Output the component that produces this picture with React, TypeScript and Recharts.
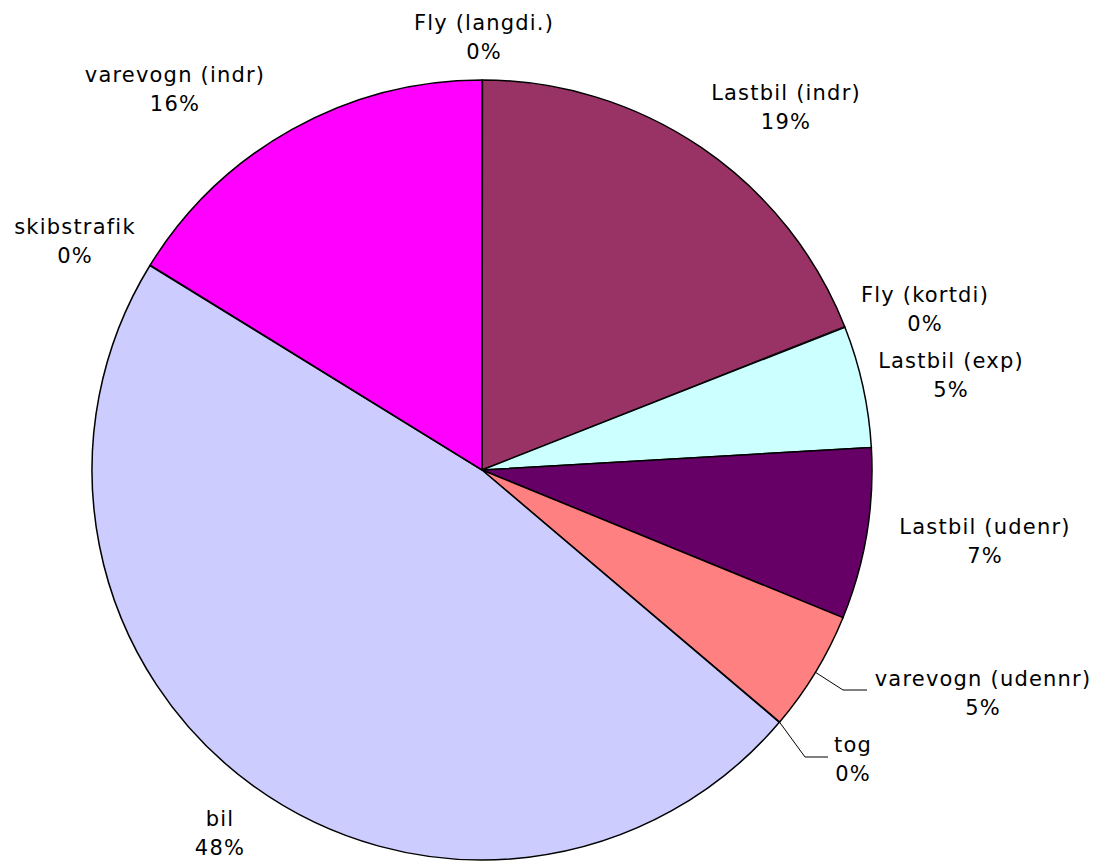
import React from 'react';
import { PieChart, Pie, Cell } from 'recharts';

const CATEGORIES = [
  'Fly (langdi.)',
  'Lastbil (indr)',
  'Fly (kortdi)',
  'Lastbil (exp)',
  'Lastbil (udenr)',
  'varevogn (udennr)',
  'tog',
  'bil',
  'skibstrafik',
  'varevogn (indr)',
];

const VALUES = [0.02, 19.0, 0.02, 5.05, 7.1, 5.0, 0.02, 47.6, 0.02, 16.2];

const COLORS = [
  '#000080',
  '#993366',
  '#FFFFCC',
  '#CCFFFF',
  '#660066',
  '#FF8080',
  '#0066CC',
  '#CCCCFF',
  '#000080',
  '#FF00FF',
];

// label centre offsets relative to pie centre, plus optional leader elbows
const LABEL_LAYOUT: Record<string, { dx: number; dy: number; leader?: { ex: number; ey: number; hx: number } }> = {
  'Fly (langdi.)': { dx: 2, dy: -433 },
  'Lastbil (indr)': { dx: 304, dy: -363 },
  'Fly (kortdi)': { dx: 443, dy: -161 },
  'Lastbil (exp)': { dx: 469, dy: -95 },
  'Lastbil (udenr)': { dx: 503, dy: 71 },
  'varevogn (udennr)': { dx: 501, dy: 223, leader: { ex: 361, ey: 220, hx: 385 } },
  'tog': { dx: 371, dy: 289, leader: { ex: 323, ey: 287, hx: 346 } },
  'bil': { dx: -262, dy: 363 },
  'skibstrafik': { dx: -407, dy: -229 },
  'varevogn (indr)': { dx: -307, dy: -381 },
};

const data = CATEGORIES.map((name, i) => ({ name, value: VALUES[i] }));

const RADIAN = Math.PI / 180;

const FONT = 'DejaVu Sans, Verdana, sans-serif';

const renderLabel = (props: any) => {
  const { cx, cy, midAngle, outerRadius, percent, name } = props;
  const layout = LABEL_LAYOUT[name];
  if (!layout) return null;
  const x = cx + layout.dx;
  const y = cy + layout.dy;
  const pct = `${Math.round(percent * 100)}%`;
  let leader = null;
  if (layout.leader) {
    const sx = cx + outerRadius * Math.cos(-midAngle * RADIAN);
    const sy = cy + outerRadius * Math.sin(-midAngle * RADIAN);
    const ex = cx + layout.leader.ex;
    const ey = cy + layout.leader.ey;
    const hx = cx + layout.leader.hx;
    leader = (
      <polyline
        points={`${sx},${sy} ${ex},${ey} ${hx},${ey}`}
        fill="none"
        stroke="#000"
        strokeWidth={1}
      />
    );
  }
  const common = {
    textAnchor: 'middle' as const,
    dominantBaseline: 'central' as const,
    fill: '#000',
    fontSize: 21,
    letterSpacing: 1.2,
    fontFamily: FONT,
  };
  return (
    <g>
      {leader}
      <text x={x} y={y - 14.5} {...common}>
        {name}
      </text>
      <text x={x} y={y + 14.5} {...common}>
        {pct}
      </text>
    </g>
  );
};

export default function App() {
  return (
    <div style={{ position: 'absolute', left: 0, top: 0, background: '#fff' }}>
      <PieChart width={1096} height={862} margin={{ top: 0, right: 0, bottom: 0, left: 0 }}>
        <Pie
          data={data}
          dataKey="value"
          nameKey="name"
          cx={482}
          cy={470}
          outerRadius={390}
          startAngle={90}
          endAngle={-270}
          stroke="#000"
          strokeWidth={1.5}
          label={renderLabel}
          labelLine={false}
          isAnimationActive={false}
        >
          {data.map((d, i) => (
            <Cell key={d.name} fill={COLORS[i]} stroke={VALUES[i] < 0.5 ? 'none' : '#000'} />
          ))}
        </Pie>
      </PieChart>
    </div>
  );
}
